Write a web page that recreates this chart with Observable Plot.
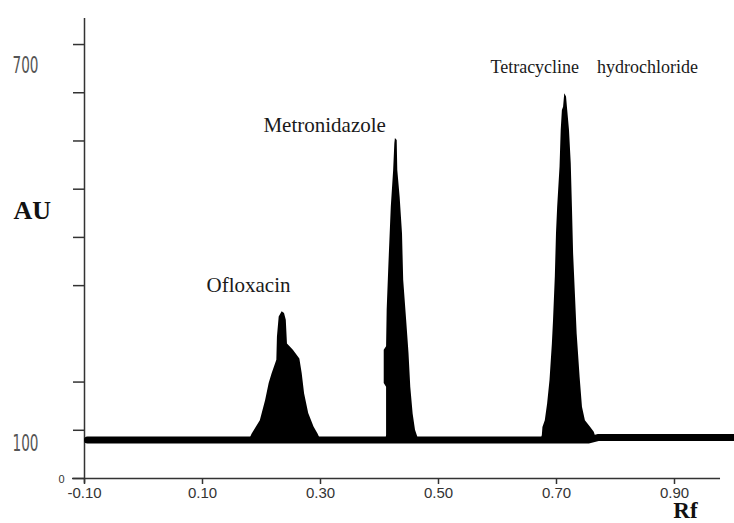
<!DOCTYPE html>
<html>
<head>
<meta charset="utf-8">
<script src="https://cdn.jsdelivr.net/npm/d3@7"></script>
<script src="https://cdn.jsdelivr.net/npm/@observablehq/plot@0.6"></script>
<style>
  html, body { margin: 0; padding: 0; background: #fff; }
  #chart svg { display: block; }
</style>
</head>
<body>
<div id="chart"></div>
<script>
// ---- data (Rf vs AU) ----
const baselineAU = 81;

const ofloxacinRf = [0.180,0.184,0.198,0.207,0.213,0.218,0.226,0.227,0.230,0.235,0.239,0.242,0.244,0.254,0.265,0.269,0.273,0.280,0.289,0.296,0.300];
const ofloxacinAU = [81,92,120,162,197,217,245,293,335,346,342,328,279,266,248,217,176,135,107,92,81];

const metronidazoleRf = [0.411,0.412,0.412,0.408,0.408,0.412,0.413,0.416,0.420,0.424,0.426,0.427,0.430,0.431,0.435,0.439,0.441,0.446,0.450,0.453,0.457,0.461,0.464,0.466];
const metronidazoleAU = [81,89,189,197,266,273,349,445,563,639,694,705,701,639,583,507,411,328,259,189,134,100,89,81];

const tetracyclineRf = [0.674,0.676,0.677,0.681,0.685,0.689,0.693,0.695,0.698,0.700,0.702,0.706,0.708,0.710,0.712,0.714,0.717,0.719,0.722,0.725,0.727,0.729,0.732,0.735,0.740,0.744,0.749,0.758,0.764,0.768];
const tetracyclineAU = [81,89,106,120,155,203,279,328,418,508,563,646,722,763,770,798,791,763,722,653,563,466,383,300,210,148,120,106,96,81];

const baseRf = [-0.095, 0.755, 0.77, 1.0];
const baseAU = [80, 80, 85, 85];

const peakNames = ["Ofloxacin", "Metronidazole", "Tetracycline\u00a0\u00a0\u00a0\u00a0hydrochloride"];
const peakLabelRf = [0.178, 0.307, 0.588];
const peakLabelAU = [386, 718, 840];

const xTicks = [-0.1, 0.1, 0.3, 0.5, 0.7, 0.9];
const xTickLabels = ["-0.10", "0.10", "0.30", "0.50", "0.70", "0.90"];
const yTicks = [0, 100, 200, 400, 500, 600, 700, 800, 900];
const yLabelText = ["700", "100"];
const yLabelAU = [842, 58];

// ---- build tables ----
const zipPeak = (rf, au, name) => rf.map((r, i) => ({rf: r, au: au[i], name}));
const peaks = [
  ...zipPeak(ofloxacinRf, ofloxacinAU, "Ofloxacin"),
  ...zipPeak(metronidazoleRf, metronidazoleAU, "Metronidazole"),
  ...zipPeak(tetracyclineRf, tetracyclineAU, "Tetracycline")
];
const base = baseRf.map((r, i) => ({rf: r, au: baseAU[i]}));
const peakLabels = peakNames.map((n, i) => ({name: n, rf: peakLabelRf[i], au: peakLabelAU[i]}));
const yLabels = yLabelText.map((t, i) => ({t, au: yLabelAU[i]}));

const px = 1 / 590; // one pixel in Rf units (for small offsets)

const plot = Plot.plot({
  width: 734,
  height: 523,
  marginLeft: 84,
  marginRight: 0,
  marginTop: 18,
  marginBottom: 45,
  x: {domain: [-0.1, 1.0017], label: null},
  y: {domain: [0, 954], label: null},
  style: {fontFamily: "'Liberation Sans', Arial, sans-serif", background: "#fff"},
  marks: [
    // axes lines
    Plot.ruleX([-0.1], {y1: -10, y2: 954, stroke: "#333", strokeWidth: 1.5}),
    Plot.ruleY([0], {x1: -0.1 - 12 * px, x2: 0.978, stroke: "#333", strokeWidth: 1.5}),
    Plot.axisY({ticks: yTicks, tickSize: 11, tickFormat: () => "", label: null, stroke: "#333", strokeWidth: 1.5}),
    Plot.axisX({ticks: xTicks, tickSize: 6, tickPadding: 3, fontSize: 15, fill: "#333", stroke: "#333", strokeWidth: 1.5,
      label: null, tickFormat: d => xTickLabels[xTicks.indexOf(d)]}),
    // peaks
    Plot.areaY(peaks, {x: "rf", y1: baselineAU, y2: "au", z: "name", fill: "black", curve: "linear"}),
    // thick baseline
    Plot.line(base, {x: "rf", y: "au", stroke: "black", strokeWidth: 7, strokeLinecap: "round"}),
    // peak labels
    Plot.text(peakLabels.slice(0, 2), {x: "rf", y: "au", text: "name", textAnchor: "middle", lineAnchor: "bottom",
      fontFamily: "'Liberation Serif', 'Times New Roman', serif", fontSize: 21, fill: "#1a1a1a"}),
    Plot.text(peakLabels.slice(2), {x: "rf", y: "au", text: "name", textAnchor: "start", lineAnchor: "bottom",
      fontFamily: "'Liberation Serif', 'Times New Roman', serif", fontSize: 18, fill: "#1a1a1a"}),
    // y tick labels (as in original)
    Plot.text(yLabels, {x: -0.1 - 72 * px, y: "au", text: "t", textAnchor: "start", lineAnchor: "bottom",
      fontFamily: "'Liberation Sans Narrow', 'DejaVu Sans Condensed', sans-serif", fontSize: 23, fill: "#555", className: "ylab"}),
    Plot.text(["0"], {x: -0.1 - 26 * px, y: -10, text: d => d, textAnchor: "start", lineAnchor: "bottom",
      fontFamily: "'Liberation Sans', Arial, sans-serif", fontSize: 11, fill: "#333"}),
    // axis titles
    Plot.text(["AU"], {x: -0.1 - 71 * px, y: 539, text: d => d, textAnchor: "start", lineAnchor: "bottom",
      fontFamily: "'Liberation Serif', 'Times New Roman', serif", fontWeight: "bold", fontSize: 26, fill: "#111"}),
    Plot.text(["Rf"], {x: 0.898, y: -81, text: d => d, textAnchor: "start", lineAnchor: "bottom",
      fontFamily: "'Liberation Serif', 'Times New Roman', serif", fontWeight: "bold", fontSize: 23, fill: "#111"})
  ]
});

d3.select(plot).selectAll(".ylab text").attr("textLength", 26).attr("lengthAdjust", "spacingAndGlyphs");
document.getElementById("chart").appendChild(plot);
</script>
</body>
</html>
